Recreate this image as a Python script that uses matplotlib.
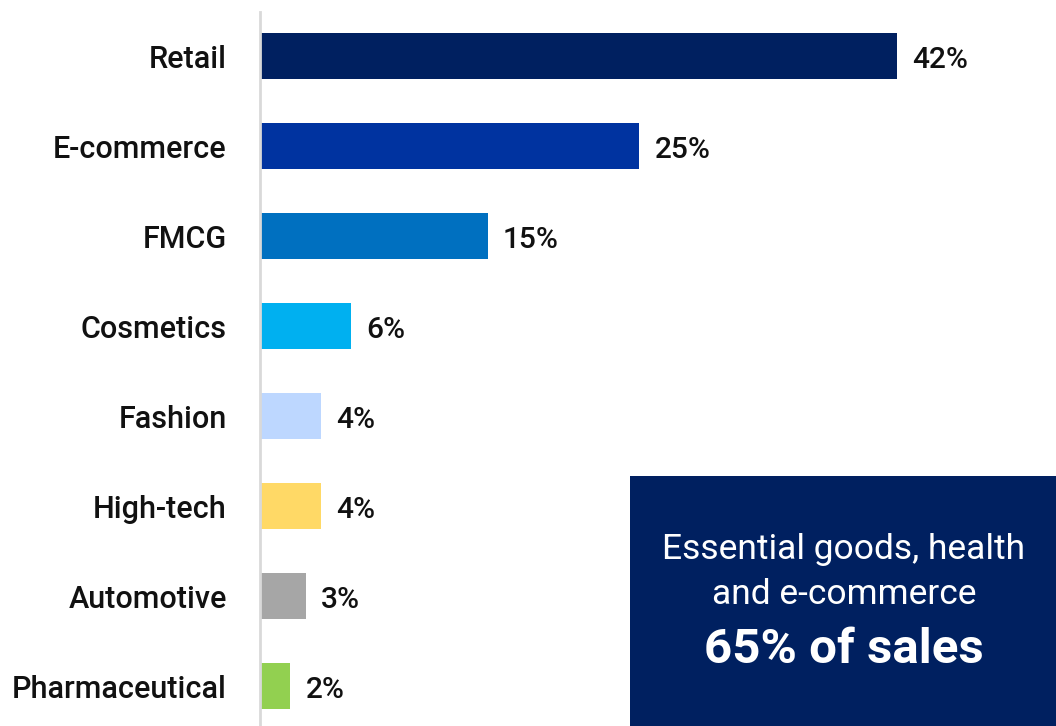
import matplotlib
matplotlib.use("Agg")
import matplotlib.pyplot as plt
from matplotlib.patches import Rectangle

categories = ["Retail", "E-commerce", "FMCG", "Cosmetics", "Fashion",
              "High-tech", "Automotive", "Pharmaceutical"]
shares = [42, 25, 15, 6, 4, 4, 3, 2]
colors = ["#002060", "#0033A0", "#0070C0", "#00B0F0", "#BDD7FF",
          "#FFD966", "#A6A6A6", "#92D050"]
note_lines = ["Essential goods, health", "and e-commerce"]
note_highlight = "65% of sales"

FONT = ["Roboto", "DejaVu Sans"]
NAVY = "#002060"

fig = plt.figure(figsize=(10.56, 7.26), dpi=100)
ax = fig.add_axes([260 / 1056, 0, 1 - 260 / 1056, 1 - 12 / 726])

y = list(range(len(categories)))
ax.barh(y, shares, height=0.51, color=colors, left=0)
ax.set_xlim(0, (1056 - 260) / 15.17)
ax.set_ylim(7 + 40 / 90, -44 / 90)

for yi, v in zip(y, shares):
    ax.text(v + 1.0, yi + 0.04, f"{v}%", va="center", ha="left",
            fontsize=21.5, fontweight="medium", family=FONT, color="#111111")

ax.set_yticks(y)
ax.set_yticklabels(categories, fontsize=22, fontweight="medium", family=FONT,
                   color="#111111")
ax.tick_params(axis="y", length=0, pad=24)
ax.set_xticks([])
for s in ["top", "right", "bottom"]:
    ax.spines[s].set_visible(False)
ax.spines["left"].set_color("#D9D9D9")
ax.spines["left"].set_linewidth(2)

# Highlight box in the lower-right corner
fig.patches.append(Rectangle((630 / 1056, 0), 426 / 1056, 250 / 726,
                             transform=fig.transFigure, facecolor=NAVY,
                             edgecolor="none", zorder=5))
cx = 844 / 1056
fig.text(cx, 1 - 549 / 726, note_lines[0], ha="center", va="center",
         fontsize=25.5, color="white", family=FONT, zorder=6)
fig.text(cx, 1 - 594 / 726, note_lines[1], ha="center", va="center",
         fontsize=25.5, color="white", family=FONT, zorder=6)
fig.text(cx, 1 - 650 / 726, note_highlight, ha="center", va="center",
         fontsize=35.5, fontweight="bold", color="white", family=FONT, zorder=6)

fig.savefig("out.png", dpi=100)
